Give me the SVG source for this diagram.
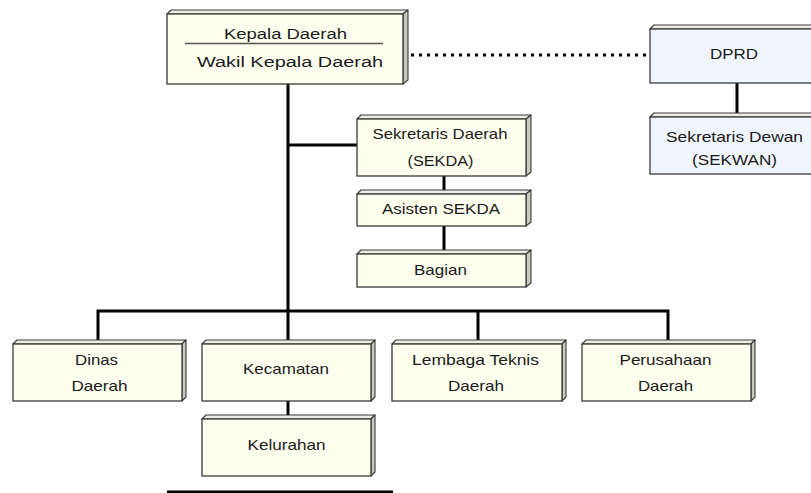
<svg xmlns="http://www.w3.org/2000/svg" width="811" height="493" viewBox="0 0 811 493">
<style>
.front{fill:#FFFFF0;stroke:#3a3a3a;stroke-width:1.3}
.blue{fill:#F1F5FE}
.top{fill:#EDEDE6;stroke:#3a3a3a;stroke-width:1.1;stroke-linejoin:round}
.side{fill:#C9C9BE;stroke:#3a3a3a;stroke-width:1.1;stroke-linejoin:round}
.t{font-family:"Liberation Sans",Arial,sans-serif;font-size:14.5px;fill:#1a1a1a;text-anchor:middle}
.tb{font-size:15.5px}
.c{stroke:#000;stroke-width:3;fill:none}
</style>
<rect width="811" height="493" fill="#fff"/>
<g id="connectors">
<line class="c" x1="288" y1="84" x2="288" y2="344"/>
<line class="c" x1="288" y1="145" x2="357" y2="145"/>
<line class="c" x1="444" y1="176" x2="444" y2="194"/>
<line class="c" x1="444" y1="226" x2="444" y2="254"/>
<polyline class="c" points="98,344 98,311 668,311 668,344"/>
<line class="c" x1="478" y1="311" x2="478" y2="344"/>
<line class="c" x1="288" y1="401" x2="288" y2="419"/>
<line class="c" x1="737" y1="83" x2="737" y2="117"/>
<line x1="411" y1="55" x2="650" y2="55" stroke="#000" stroke-width="3" stroke-dasharray="3 5"/>
</g>
<g id="kepala">
<polygon class="top" points="167,14 171,10 408,10 403,14"/>
<polygon class="side" points="403,14 408,10 408,80 403,84"/>
<rect class="front" x="167" y="14" width="236" height="70"/>
<text class="t tb" x="285.5" y="38.5" textLength="123" lengthAdjust="spacingAndGlyphs">Kepala Daerah</text>
<line x1="185" y1="43.5" x2="383" y2="43.5" stroke="#555" stroke-width="1.5"/>
<text class="t tb" x="290" y="66.5" textLength="186" lengthAdjust="spacingAndGlyphs">Wakil Kepala Daerah</text>
</g>
<g id="dprd">
<polygon class="top" points="650,29 654,25 830,25 826,29"/>
<rect class="front blue" x="650" y="29" width="176" height="54"/>
<text class="t" x="734" y="59" textLength="48" lengthAdjust="spacingAndGlyphs">DPRD</text>
</g>
<g id="sekwan">
<polygon class="top" points="650,117 654,113 830,113 826,117"/>
<rect class="front blue" x="650" y="117" width="176" height="57"/>
<text class="t" x="734.5" y="142" textLength="137" lengthAdjust="spacingAndGlyphs">Sekretaris Dewan</text>
<text class="t" x="734.5" y="165" textLength="85" lengthAdjust="spacingAndGlyphs">(SEKWAN)</text>
</g>
<g id="sekda">
<polygon class="top" points="357,119 361,115 531,115 526,119"/>
<polygon class="side" points="526,119 531,115 531,172 526,176"/>
<rect class="front" x="357" y="119" width="169" height="57"/>
<text class="t" x="440" y="139" textLength="135" lengthAdjust="spacingAndGlyphs">Sekretaris Daerah</text>
<text class="t" x="440.5" y="166" textLength="66" lengthAdjust="spacingAndGlyphs">(SEKDA)</text>
</g>
<g id="asisten">
<polygon class="top" points="357,194 361,190 531,190 526,194"/>
<polygon class="side" points="526,194 531,190 531,222 526,226"/>
<rect class="front" x="357" y="194" width="169" height="32"/>
<text class="t" x="441" y="214" textLength="118" lengthAdjust="spacingAndGlyphs">Asisten SEKDA</text>
</g>
<g id="bagian">
<polygon class="top" points="357,254 361,250 531,250 526,254"/>
<polygon class="side" points="526,254 531,250 531,283 526,287"/>
<rect class="front" x="357" y="254" width="169" height="33"/>
<text class="t" x="440.5" y="275" textLength="53" lengthAdjust="spacingAndGlyphs">Bagian</text>
</g>
<g id="dinas">
<polygon class="top" points="13,344 17,340 186,340 182,344"/>
<polygon class="side" points="182,344 186,340 186,397 182,401"/>
<rect class="front" x="13" y="344" width="169" height="57"/>
<text class="t" x="96.5" y="365" textLength="43" lengthAdjust="spacingAndGlyphs">Dinas</text>
<text class="t" x="99.5" y="391" textLength="56" lengthAdjust="spacingAndGlyphs">Daerah</text>
</g>
<g id="kecamatan">
<polygon class="top" points="202,344 206,340 375,340 371,344"/>
<polygon class="side" points="371,344 375,340 375,397 371,401"/>
<rect class="front" x="202" y="344" width="169" height="57"/>
<text class="t" x="286" y="374" textLength="86" lengthAdjust="spacingAndGlyphs">Kecamatan</text>
</g>
<g id="kelurahan">
<polygon class="top" points="202,419 206,415 375,415 371,419"/>
<polygon class="side" points="371,419 375,415 375,472 371,476"/>
<rect class="front" x="202" y="419" width="169" height="57"/>
<text class="t" x="286.5" y="450" textLength="78" lengthAdjust="spacingAndGlyphs">Kelurahan</text>
</g>
<g id="lembaga">
<polygon class="top" points="392,344 396,340 566,340 562,344"/>
<polygon class="side" points="562,344 566,340 566,397 562,401"/>
<rect class="front" x="392" y="344" width="170" height="57"/>
<text class="t" x="475.5" y="365" textLength="127" lengthAdjust="spacingAndGlyphs">Lembaga Teknis</text>
<text class="t" x="476" y="391" textLength="56" lengthAdjust="spacingAndGlyphs">Daerah</text>
</g>
<g id="perusahaan">
<polygon class="top" points="582,344 586,340 755,340 751,344"/>
<polygon class="side" points="751,344 755,340 755,397 751,401"/>
<rect class="front" x="582" y="344" width="169" height="57"/>
<text class="t" x="665.5" y="365" textLength="92" lengthAdjust="spacingAndGlyphs">Perusahaan</text>
<text class="t" x="665.5" y="391" textLength="55" lengthAdjust="spacingAndGlyphs">Daerah</text>
</g>
<g id="bottom-box">
<rect x="168.5" y="492" width="223" height="20" fill="#fff" stroke="#000" stroke-width="3"/>
</g>
</svg>
